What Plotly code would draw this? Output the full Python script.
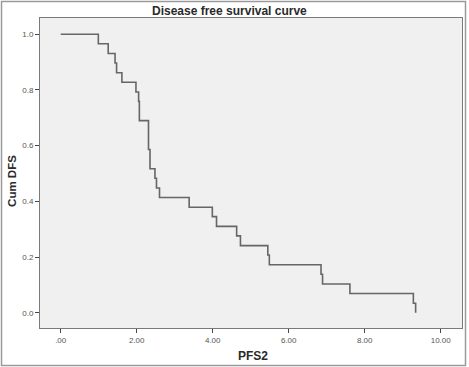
import plotly.graph_objects as go

# Kaplan-Meier step points (time, cumulative DFS)
times = [0.0, 0.99, 1.25, 1.43, 1.47, 1.61, 1.98, 2.05, 2.07, 2.31, 2.35, 2.48, 2.52, 2.60,
         3.38, 3.99, 4.10, 4.63, 4.73, 5.45, 5.49, 6.85, 6.89, 7.61, 9.28, 9.34]
surv = [1.0, 0.966, 0.931, 0.897, 0.862, 0.828, 0.793, 0.759, 0.690, 0.586, 0.517, 0.483, 0.448, 0.414,
        0.379, 0.345, 0.310, 0.276, 0.241, 0.207, 0.172, 0.138, 0.103, 0.069, 0.034, 0.0]

x_tick_vals = [0, 2, 4, 6, 8, 10]
x_tick_text = [".00", "2.00", "4.00", "6.00", "8.00", "10.00"]
y_tick_vals = [0.0, 0.2, 0.4, 0.6, 0.8, 1.0]
y_tick_text = ["0.0", "0.2", "0.4", "0.6", "0.8", "1.0"]

fig = go.Figure()
fig.add_trace(go.Scatter(x=times, y=surv, mode="lines", line_shape="hv",
                         line=dict(color="#666666", width=1.6), hoverinfo="skip",
                         showlegend=False))

axis_common = dict(showgrid=False, zeroline=False, showline=True, mirror=True,
                   linecolor="#7a7a7a", linewidth=1, ticks="outside", ticklen=4,
                   tickcolor="#444444", tickfont=dict(family="Arial, Liberation Sans", size=8, color="#555555"))

fig.update_layout(
    width=469, height=367,
    margin=dict(l=40, r=7, t=18, b=39),
    paper_bgcolor="white", plot_bgcolor="#f0f0f0",
    xaxis=dict(range=[-0.545, 10.56], tickvals=x_tick_vals, ticktext=x_tick_text, **axis_common),
    yaxis=dict(range=[-0.055, 1.0586], tickvals=y_tick_vals, ticktext=y_tick_text, **axis_common),
    annotations=[
        dict(text="<b>Disease free survival curve</b>", xref="paper", yref="paper",
             x=0.45, y=1.0226, showarrow=False, xanchor="center", yanchor="middle",
             font=dict(family="Arial, Liberation Sans", size=12, color="#2a2a2a")),
        dict(text="<b>Cum DFS</b>", xref="paper", yref="paper", textangle=-90,
             x=-0.066, y=0.475, showarrow=False, xanchor="center", yanchor="middle",
             font=dict(family="Arial, Liberation Sans", size=11.5, color="#2a2a2a")),
        dict(text="<b>PFS2</b>", xref="paper", yref="paper",
             x=0.505, y=-0.09, showarrow=False, xanchor="center", yanchor="middle",
             font=dict(family="Arial, Liberation Sans", size=12, color="#2a2a2a")),
    ],
    shapes=[
        dict(type="rect", xref="paper", yref="paper", x0=-0.0912, x1=1.0083,
             y0=-0.121, y1=1.0532, line=dict(color="#9a9a9a", width=1.5)),
    ],
)

fig.write_html("out.html", config={"displayModeBar": False},
               post_script="document.body.style.margin='0';document.body.style.overflow='hidden';")
